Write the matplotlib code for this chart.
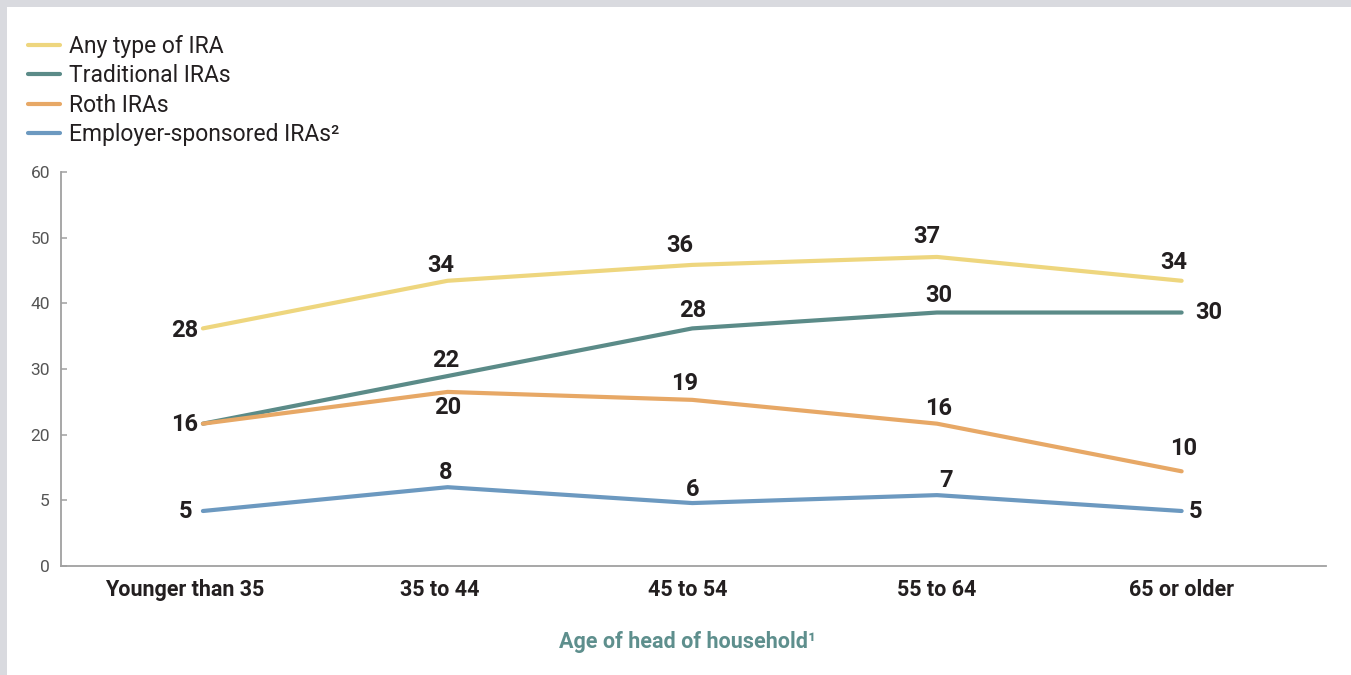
import matplotlib
matplotlib.use("Agg")
import matplotlib.pyplot as plt
from matplotlib.patches import Rectangle

# ---- data -------------------------------------------------------------
age_groups = ["Younger than 35", "35 to 44", "45 to 54", "55 to 64", "65 or older"]
any_ira = [28, 34, 36, 37, 34]
traditional_ira = [16, 22, 28, 30, 30]
roth_ira = [16, 20, 19, 16, 10]
employer_ira = [5, 8, 6, 7, 5]

series_names = ["Any type of IRA", "Traditional IRAs", "Roth IRAs",
                "Employer-sponsored IRAs\u00b2"]

# printed y-axis scale: gridline levels and the text shown at each
scale_levels = [0, 10, 20, 30, 40, 50, 60]
scale_labels = ["0", "5", "20", "30", "40", "50", "60"]

# ---- styling ----------------------------------------------------------
FONT = ["Liberation Sans Narrow", "Roboto", "DejaVu Sans"]
plt.rcParams["font.family"] = FONT

colors = ["#EED67E", "#5B8B88", "#E7A866", "#6C99C0"]
axis_gray = "#A0A0A0"
text_dark = "#231F20"
teal_text = "#5E8F8D"

# the printed scale relates to the plotted percentages by a linear map
SCALE_GAIN = 1.209
SCALE_OFFSET = 2.33


def level_to_value(level):
    return (level - SCALE_OFFSET) / SCALE_GAIN


fig = plt.figure(figsize=(13.51, 6.75), dpi=100)
W, H = 1351, 675
ax = fig.add_axes([61 / W, 1 - 566 / H, (1326 - 61) / W, (566 - 172) / H])

x = list(range(len(age_groups)))
all_series = [any_ira, traditional_ira, roth_ira, employer_ira]
for vals, name, col in zip(all_series, series_names, colors):
    ax.plot(x, vals, color=col, lw=3.0, solid_capstyle="round",
            solid_joinstyle="round", label=name)

# value labels: offsets in pixels from each point
offsets = {
    0: [(-18, -2), (-7, 15), (-13, 19), (-10, 20), (-8, 18)],
    1: [(-18, -1), (-2, 16), (0, 18), (2, 17), (27, 0)],
    2: [None, (0, -16), (-8, 16), (2, 15), (2, 23)],
    3: [(-17, 0), (-2, 15), (0, 14), (9, 15), (14, 0)],
}
for si, vals in enumerate(all_series):
    for i, v in enumerate(vals):
        off = offsets[si][i]
        if off is None:
            continue
        ax.annotate(str(v), (i, v), xytext=off, textcoords="offset pixels",
                    ha="center", va="center", fontsize=17, fontweight="bold",
                    color=text_dark, family=FONT)

ax.set_xlim(-0.58, 4.59)
ax.set_ylim(level_to_value(0), level_to_value(60))
ax.set_yticks([level_to_value(l) for l in scale_levels])
ax.set_yticklabels(scale_labels)
ax.set_xticks(x)
ax.set_xticklabels([])

# category names under the axis; the youngest group's name sits a bit left
shifts_px = [-18, -8, -5, 0, 0]
for i, (name, dx) in enumerate(zip(age_groups, shifts_px)):
    ax.annotate(name, (i, 0), xycoords=("data", "axes fraction"),
                xytext=(dx, -24), textcoords="offset pixels",
                ha="center", va="center", fontsize=15.5, fontweight="bold",
                color=text_dark, family=FONT, annotation_clip=False)

for s in ["top", "right"]:
    ax.spines[s].set_visible(False)
for s in ["left", "bottom"]:
    ax.spines[s].set_color(axis_gray)
    ax.spines[s].set_linewidth(1.3)

ax.tick_params(axis="y", direction="in", length=4.5, width=1.1, color=axis_gray,
               labelsize=12.5, labelcolor="#555555", pad=8)
ax.tick_params(axis="x", length=0, pad=11)

ax.set_xlabel("Age of head of household\u00b9", fontsize=15.5, fontweight="bold",
              color=teal_text)
ax.xaxis.set_label_coords(0.495, -0.165)

leg = ax.legend(loc="upper left", bbox_to_anchor=(28 / W, 1 - 35 / H),
                bbox_transform=fig.transFigure, frameon=False, fontsize=16.5,
                handlelength=1.4, handletextpad=0.4, labelspacing=0.28,
                borderpad=0, borderaxespad=0)
for t in leg.get_texts():
    t.set_color(text_dark)
for h in leg.legend_handles:
    h.set_linewidth(3.0)

# light frame bands along the top and left edges
band = "#D9DADF"
fig.add_artist(Rectangle((0, 1 - 7 / H), 1, 7 / H, transform=fig.transFigure,
                         color=band, lw=0))
fig.add_artist(Rectangle((0, 0), 7 / W, 1, transform=fig.transFigure,
                         color=band, lw=0))

fig.savefig("out.png", dpi=100)
